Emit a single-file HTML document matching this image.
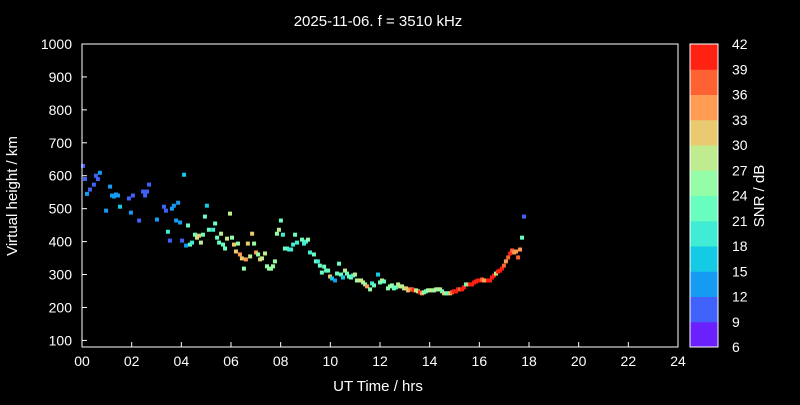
<!DOCTYPE html>
<html><head><meta charset="utf-8"><style>
body{margin:0;background:#000;width:800px;height:400px;overflow:hidden}
svg text{font-family:"Liberation Sans",sans-serif;fill:#fff}
</style></head><body>
<svg id="c" width="800" height="400">
<rect width="800" height="400" fill="#000"/>
<text x="378" y="26" font-size="15" text-anchor="middle">2025-11-06. f = 3510 kHz</text>
<g id="plot"></g>
<rect x="82" y="44" width="596" height="303" fill="none" stroke="#fff" stroke-width="1"/>
<text x="378" y="391" font-size="15" text-anchor="middle">UT Time / hrs</text>
<text transform="translate(17,196) rotate(-90)" font-size="15" text-anchor="middle">Virtual height / km</text>
<g id="cb"></g>
<text transform="translate(764,196) rotate(-90)" font-size="15" text-anchor="middle">SNR / dB</text>
</svg>
<script>
const times=[0.04,0.12,0.2,0.32,0.48,0.56,0.64,0.72,0.97,1.13,1.21,1.29,1.37,1.45,1.53,1.89,1.97,2.05,2.3,2.46,2.54,2.62,2.7,3.02,3.3,3.38,3.46,3.54,3.62,3.7,3.79,3.87,3.95,4.03,4.11,4.19,4.27,4.35,4.43,4.55,4.63,4.71,4.79,4.87,4.95,5.03,5.11,5.28,5.36,5.44,5.52,5.6,5.68,5.76,5.84,5.96,6.04,6.12,6.2,6.28,6.36,6.44,6.52,6.6,6.68,6.77,6.85,6.93,7.01,7.09,7.17,7.25,7.37,7.45,7.53,7.61,7.69,7.77,7.85,7.93,8.01,8.09,8.17,8.26,8.34,8.42,8.5,8.58,8.66,8.86,8.94,9.02,9.1,9.18,9.34,9.42,9.5,9.58,9.66,9.75,9.83,9.91,9.99,10.07,10.19,10.27,10.35,10.43,10.51,10.59,10.67,10.75,10.83,10.91,10.99,11.07,11.15,11.24,11.32,11.4,11.48,11.6,11.68,11.76,11.92,12.0,12.08,12.16,12.32,12.4,12.48,12.56,12.64,12.73,12.81,12.89,12.97,13.05,13.13,13.21,13.29,13.37,13.45,13.53,13.61,13.69,13.77,13.85,13.93,14.01,14.1,14.18,14.26,14.34,14.42,14.5,14.58,14.66,14.74,14.82,14.9,14.98,15.06,15.14,15.22,15.3,15.38,15.46,15.54,15.63,15.71,15.79,15.87,15.95,16.03,16.11,16.19,16.27,16.35,16.43,16.51,16.59,16.67,16.75,16.83,16.91,16.99,17.07,17.16,17.24,17.32,17.4,17.48,17.56,17.64,17.72,17.8];
const heights=[630,590,545,558,573,600,590,609,494,567,540,537,543,540,506,531,488,540,464,552,540,552,573,467,506,494,430,403,500,509,464,518,458,403,603,388,449,391,397,421,412,418,397,421,476,509,436,436,455,412,397,424,391,379,409,485,412,391,370,394,361,349,318,346,394,355,424,394,367,361,346,349,364,325,318,318,325,340,424,436,464,421,379,379,376,376,391,421,397,406,394,400,406,367,361,340,340,327,306,324,312,312,294,288,282,303,333,300,291,312,303,294,291,297,300,282,282,282,276,270,264,255,273,267,300,276,282,279,258,264,267,258,261,270,264,264,258,258,252,255,255,252,252,249,246,243,246,249,252,252,252,252,255,255,255,249,243,243,243,243,246,249,249,255,255,255,261,270,270,270,270,276,279,282,282,285,282,282,282,282,291,297,303,309,312,318,327,340,352,364,373,367,370,352,376,412,476];
const snrs=[9,9,12,9,9,9,9,12,12,12,12,12,12,12,15,9,12,9,9,9,9,9,9,12,9,9,18,9,12,12,12,12,12,9,15,12,21,21,18,21,27,30,27,21,21,15,21,18,21,21,21,27,21,21,27,27,24,30,30,24,33,30,24,33,30,27,30,24,33,24,30,27,27,24,24,24,24,24,24,27,21,18,21,21,18,18,18,21,18,21,18,18,24,18,21,21,18,21,21,21,21,21,30,15,12,21,21,21,15,27,21,21,21,18,27,24,27,27,27,24,33,24,18,21,15,21,27,21,24,24,24,21,21,27,27,27,27,30,30,33,36,39,27,27,39,33,24,21,24,27,27,24,27,24,27,21,30,24,21,30,36,39,39,39,36,39,39,21,30,39,39,39,39,39,39,36,33,33,39,39,39,39,27,39,39,39,36,33,36,39,36,33,33,36,33,21,9];
const xTicks=[0,2,4,6,8,10,12,14,16,18,20,22,24];
const xTickLabels=["00","02","04","06","08","10","12","14","16","18","20","22","24"];
const yTicks=[100,200,300,400,500,600,700,800,900,1000];
const cbTicks=[6,9,12,15,18,21,24,27,30,33,36,39,42];

const L=82,R=678,T=44,B=347,YMIN=80,YMAX=1000,SMIN=6,SMAX=42;
const xs=t=>L+(t/24)*(R-L);
const ys=h=>B-(h-YMIN)/(YMAX-YMIN)*(B-T);
const cbY=s=>B-(s-SMIN)/(SMAX-SMIN)*(B-T);
function rainbow(x){const r=Math.min(1,Math.abs(2*x-0.5)),g=Math.sin(Math.PI*x),b=Math.cos(Math.PI*x/2);
 return `rgb(${Math.round(r*255)},${Math.round(Math.max(0,g)*255)},${Math.round(Math.max(0,b)*255)})`;}
function binColor(s){let i=Math.floor((s-SMIN)/3);i=Math.max(0,Math.min(11,i));return rainbow((i+0.5)/12);}
const NS="http://www.w3.org/2000/svg";
const plot=document.getElementById('plot'),cb=document.getElementById('cb');
function mk(tag,attrs,parent){const e=document.createElementNS(NS,tag);for(const k in attrs)e.setAttribute(k,attrs[k]);parent.appendChild(e);return e;}
xTicks.forEach((t,i)=>{
 const ln=mk('line',{x1:xs(t),x2:xs(t),y1:B,y2:B-5,stroke:'#fff'},plot);
 
 
 const tx=mk('text',{x:xs(t),y:B+19,'font-size':14,'text-anchor':'middle'},plot);tx.textContent=xTickLabels[i];
 
 
});
yTicks.forEach(v=>{
 const ln=mk('line',{x1:L,x2:L+5,y1:ys(v),y2:ys(v),stroke:'#fff'},plot);
 
 
 const tx=mk('text',{x:L-10,y:ys(v)+5,'font-size':14,'text-anchor':'end'},plot);tx.textContent=v;
 
 
});
const n=Math.min(times.length,heights.length,snrs.length);
for(let i=0;i<n;i++){
 const r=mk('rect',{x:xs(times[i])-2,y:ys(heights[i])-2,width:4,height:4,fill:binColor(snrs[i])},plot);
 
 
}
for(let i=0;i<12;i++){
 const s0=SMIN+i*3;
 const r=mk('rect',{x:690,y:cbY(s0+3),width:28,height:cbY(s0)-cbY(s0+3)+0.5,fill:rainbow((i+0.5)/12)},cb);
 
 
}
mk('rect',{x:690,y:T,width:28,height:B-T,fill:'none',stroke:'#fff'},cb);
cbTicks.forEach(v=>{
 const tx=mk('text',{x:732,y:cbY(v)+5,'font-size':14},cb);tx.textContent=v;
 
 
});
</script>
</body></html>
